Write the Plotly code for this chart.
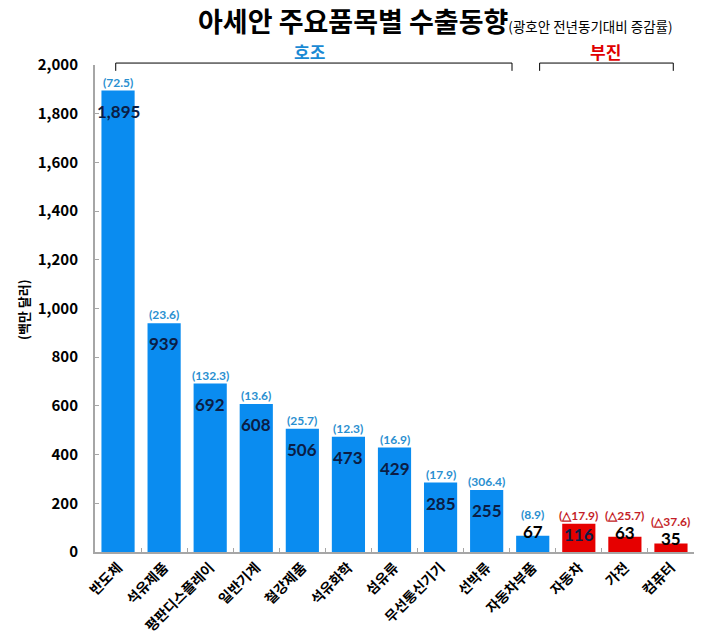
import plotly.graph_objects as go

categories = ["반도체", "석유제품", "평판디스플레이", "일반기계", "철강제품", "석유화학",
              "섬유류", "무선통신기기", "선박류", "자동차부품", "자동차", "가전", "컴퓨터"]
values = [1895, 939, 692, 608, 506, 473, 429, 285, 255, 67, 116, 63, 35]
value_text = ["1,895", "939", "692", "608", "506", "473", "429", "285", "255", "67", "116", "63", "35"]
pct_text = ["(72.5)", "(23.6)", "(132.3)", "(13.6)", "(25.7)", "(12.3)", "(16.9)", "(17.9)",
            "(306.4)", "(8.9)", "(△17.9)", "(△25.7)", "(△37.6)"]
group = ["good"] * 10 + ["bad"] * 3
label_inside = [True] * 9 + [False, True, False, False]

BLUE = "#0A8CF0"
RED = "#E60000"
PCT_BLUE = "#2A8FD0"
PCT_RED = "#C41E28"
FONT = "Noto Sans CJK KR"
NUMFONT = "Lato"

W, H = 704, 641
ML, MR, MT, MB = 95, 10, 65, 89
PLOT_H = H - MT - MB
YMAX = 2000
PX_PER_UNIT = PLOT_H / YMAX

colors = [BLUE if g == "good" else RED for g in group]

fig = go.Figure()
fig.add_trace(go.Bar(x=categories, y=values, marker=dict(color=colors, line=dict(width=0)),
                     hoverinfo="skip"))

annotations = []
for i, (c, v) in enumerate(zip(categories, values)):
    pc = PCT_BLUE if group[i] == "good" else PCT_RED
    if label_inside[i]:
        bar_px = v * PX_PER_UNIT
        down = min(9, bar_px / 2 - 15)
        annotations.append(dict(x=c, y=v, xref="x", yref="y", text="<b>" + value_text[i] + "</b>",
                                showarrow=False, yanchor="top", yshift=-down, borderpad=0,
                                font=dict(family=NUMFONT, size=17, color="#0B1D45")))
        annotations.append(dict(x=c, y=v, xref="x", yref="y", text="<b>" + pct_text[i] + "</b>",
                                showarrow=False, yanchor="bottom", yshift=0, borderpad=0,
                                font=dict(family=NUMFONT, size=12, color=pc)))
    else:
        annotations.append(dict(x=c, y=v, xref="x", yref="y", text="<b>" + value_text[i] + "</b>",
                                showarrow=False, yanchor="bottom", yshift=-7, borderpad=0,
                                font=dict(family=NUMFONT, size=17, color="#000000")))
        annotations.append(dict(x=c, y=v, xref="x", yref="y", text="<b>" + pct_text[i] + "</b>",
                                showarrow=False, yanchor="bottom", yshift=13, borderpad=0,
                                font=dict(family=NUMFONT, size=12, color=pc)))

# title
annotations.append(dict(x=0.5685, y=1.0924, xref="paper", yref="paper", showarrow=False,
                        xanchor="center", yanchor="middle",
                        text="<b>아세안 주요품목별 수출동향</b><span style='font-size:13.5px'>(광호안 전년동기대비 증감률)</span>",
                        font=dict(family=FONT, size=27, color="#000000")))
# group labels
annotations.append(dict(x=4.16, y=1.0267, xref="x", yref="paper", showarrow=False,
                        xanchor="center", yanchor="middle", text="<b>호조</b>",
                        font=dict(family=FONT, size=17, color="#1A8AD4")))
annotations.append(dict(x=10.58, y=1.0267, xref="x", yref="paper", showarrow=False,
                        xanchor="center", yanchor="middle", text="<b>부진</b>",
                        font=dict(family=FONT, size=17, color="#E00000")))
# y axis title
annotations.append(dict(x=-0.1185, y=0.497, xref="paper", yref="paper", showarrow=False,
                        xanchor="center", yanchor="middle",
                        textangle=-90, text="<b>(백만 달러)</b>",
                        font=dict(family=FONT, size=13, color="#000000")))

shapes = []
for x0, x1 in [(-0.05, 8.55), (9.15, 12.05)]:
    shapes.append(dict(type="line", xref="x", yref="paper", x0=x0, x1=x1, y0=1.004, y1=1.004,
                       line=dict(color="#000000", width=1)))
    for xx in (x0, x1):
        shapes.append(dict(type="line", xref="x", yref="paper", x0=xx, x1=xx, y0=1.004, y1=0.988,
                           line=dict(color="#000000", width=1)))

fig.update_layout(
    width=W, height=H,
    margin=dict(l=ML, r=MR, t=MT, b=MB, autoexpand=False),
    paper_bgcolor="white", plot_bgcolor="white",
    bargap=0.28, showlegend=False,
    annotations=annotations, shapes=shapes,
    font=dict(family=FONT, color="#000000"),
)
fig.update_xaxes(showline=True, linecolor="#A6A6A6", linewidth=2, ticks="inside",
                 tickson="boundaries", ticklen=4, tickcolor="#A6A6A6", tickangle=-45,
                 tickfont=dict(family=FONT, size=14, color="#000000", weight="bold"),
                 showgrid=False, automargin=False, range=[-0.5, 12.5])
fig.update_yaxes(range=[0, YMAX], dtick=200, tickformat=",d", showline=True, linecolor="#A6A6A6",
                 linewidth=2, ticks="inside", ticklen=4, tickcolor="#A6A6A6", showgrid=False,
                 zeroline=False, ticklabelstandoff=12, automargin=False,
                 tickfont=dict(family=FONT, size=15, color="#000000", weight="bold"))

fig.write_html("out.html", config={"displayModeBar": False},
               post_script="document.body.style.margin='0';")
